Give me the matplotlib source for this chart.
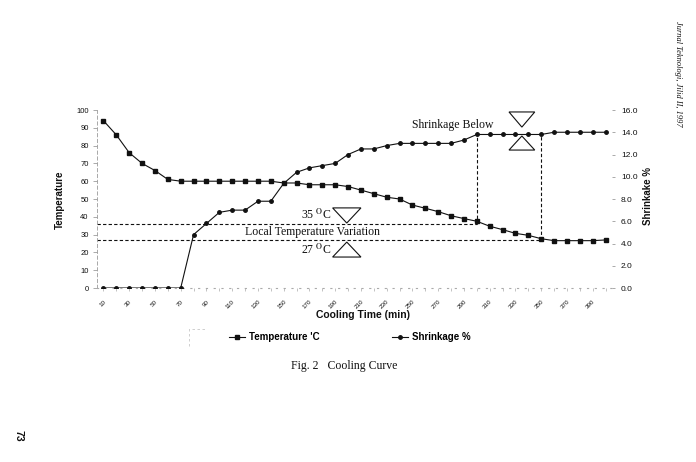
import numpy as np
import matplotlib.pyplot as plt
from matplotlib.patches import Polygon
from matplotlib.lines import Line2D

plt.rcParams['font.family'] = ['Liberation Sans', 'DejaVu Sans']
plt.rcParams['mathtext.fontset'] = 'stix'

# cooling time (min), one sample every 10 min
time = list(range(10, 410, 10))
temperature = [94, 86, 76, 70, 66, 61, 60, 60, 60, 60, 60, 60, 60, 60, 59, 59, 58, 58, 58, 57,
               55, 53, 51, 50, 46.6, 44.8, 42.9, 40.6, 39, 37.5, 34.7, 32.8, 30.7, 29.6, 27.7,
               26.6, 26.6, 26.6, 26.6, 27]
shrinkage = [0, 0, 0, 0, 0, 0, 0, 4.8, 5.8, 6.8, 7.0, 7.0, 7.8, 7.8, 9.4, 10.4, 10.8, 11.0, 11.2, 12.0,
             12.5, 12.5, 12.8, 13.0, 13.0, 13.0, 13.0, 13.0, 13.3, 13.8, 13.8, 13.8, 13.8, 13.8, 13.8,
             14.0, 14.0, 14.0, 14.0, 14.0]
xtick_labels = [str(t) for t in time[::2]]

# local temperature variation band and where it meets the cooling curve
band_temp = [36, 27]
band_time = [300, 350]

idx = np.arange(len(time))
ink = '#111111'

fig = plt.figure(figsize=(6.96, 4.62), dpi=100)
ax = fig.add_axes([0.1394, 0.3766, 0.7399, 0.3853])
ax2 = ax.twinx()

ax.plot(idx, temperature, color=ink, lw=0.8, marker='s', ms=3.4, mec=ink, mfc=ink, zorder=3)
ax2.plot(idx, shrinkage, color=ink, lw=0.8, marker='o', ms=2.5, mec=ink, mfc=ink, zorder=3)

ax.set_xlim(-0.5, len(time) - 0.5)
ax.set_ylim(0, 100)
ax2.set_ylim(0, 16)

# dashed guide lines
s_scale = 100 / 16
for tv, tt in zip(band_temp, band_time):
    i = time.index(tt)
    ax.hlines(tv, -0.5, i, colors=ink, linestyles=(0, (3, 2)), lw=0.8)
    ax.vlines(i, tv, shrinkage[i] * s_scale, colors=ink, linestyles=(0, (3, 2)), lw=0.8)

# triangles
def tri(xl, xr, yb, yt, down):
    xm = (xl + xr) / 2
    pts = [(xl, yt), (xr, yt), (xm, yb)] if down else [(xl, yb), (xr, yb), (xm, yt)]
    ax.add_patch(Polygon(pts, closed=True, fill=False, ec=ink, lw=0.8, zorder=4))

tri(17.8, 20.0, 36.5, 45, True)
tri(17.8, 20.0, 17.4, 25.8, False)
tri(31.5, 33.5, 90.4, 98.9, True)
tri(31.5, 33.5, 77.5, 85.4, False)

serif = dict(family='Liberation Serif', color=ink, fontsize=8.5)
ax.text(17.75, 37.0, r'35 $^{\mathrm{O}}$C', ha='right', va='bottom', **serif)
ax.text(16.2, 31.5, 'Local Temperature Variation', ha='center', va='center', **serif)
ax.text(17.75, 21.5, r'27 $^{\mathrm{O}}$C', ha='right', va='center', **serif)
ax.text(24.0, 91.5, 'Shrinkage Below', ha='left', va='center', **serif)

# axes styling
for s in ['top', 'right']:
    ax.spines[s].set_visible(False)
    ax2.spines[s].set_visible(False)
ax2.spines['left'].set_visible(False)
ax2.spines['bottom'].set_visible(False)
ax.spines['left'].set_color('#9a9a9a')
ax.spines['left'].set_linestyle((0, (4, 3)))
ax.spines['left'].set_linewidth(0.6)
ax.spines['bottom'].set_color('#aaaaaa')
ax.spines['bottom'].set_linestyle((0, (1, 6)))
ax.spines['bottom'].set_linewidth(0.8)

ax.set_yticks(range(0, 101, 10))
ax.tick_params(axis='y', labelsize=5.5, length=3, width=0.5, color='#888888', pad=3, labelcolor=ink)
ax2.set_yticks(np.arange(0, 16.1, 2))
ax2.set_yticklabels([f'{v:.1f}' for v in np.arange(0, 16.1, 2)])
ax2.tick_params(axis='y', labelsize=6, length=2.5, width=0.5, color='#888888', pad=4, labelcolor=ink)

ax.set_xticks(idx[::2])
ax.set_xticklabels(xtick_labels, rotation=45, ha='right', rotation_mode='anchor', fontsize=4.5)
ax.set_xticks(idx, minor=True)
ax.tick_params(axis='x', which='both', length=2, width=0.5, color='#aaaaaa', pad=6, labelcolor=ink)

# axis titles
fig.text(60 / 696, 1 - 200 / 462, 'Temperature', rotation=90, ha='center', va='center',
         fontsize=7, fontweight='bold', color=ink)
fig.text(648 / 696, 1 - 196 / 462, 'Shrinkake %', rotation=90, ha='center', va='center',
         fontsize=7, fontweight='bold', color=ink)
fig.text(363 / 696, 1 - 315 / 462, 'Cooling Time (min)', ha='center', va='center',
         fontsize=7.5, fontweight='bold', color=ink)

# legend
h1 = Line2D([], [], color=ink, lw=0.8, marker='s', ms=3.4)
h2 = Line2D([], [], color=ink, lw=0.8, marker='o', ms=2.5)
fig.legend([h1, h2], ["Temperature 'C", 'Shrinkage %'], loc='center', ncol=2,
           bbox_to_anchor=(350 / 696, 1 - 337 / 462), frameon=False, handlelength=1.6,
           handletextpad=0.4, columnspacing=7.5, prop=dict(size=7, weight='bold'))
fig.add_artist(Line2D([189 / 696, 189 / 696, 206 / 696], [1 - 346 / 462, 1 - 329 / 462, 1 - 329 / 462],
                      color='#c8c8c8', lw=0.6, ls=(0, (3, 3))))

# caption and page furniture
fig.text(344 / 696, 1 - 366 / 462, 'Fig. 2   Cooling Curve', ha='center', va='center',
         family='Liberation Serif', fontsize=8.5, color=ink)
fig.text(678 / 696, 1 - 74 / 462, 'Jurnal Teknologi, Jilid II, 1997', rotation=270, ha='center', va='center',
         family='Liberation Serif', style='italic', fontsize=6.0, color=ink)
fig.text(18 / 696, 1 - 436 / 462, '73', rotation=270, ha='center', va='center',
         fontsize=7.5, fontweight='bold', color=ink)

fig.savefig('out.png', dpi=100, facecolor='white')
